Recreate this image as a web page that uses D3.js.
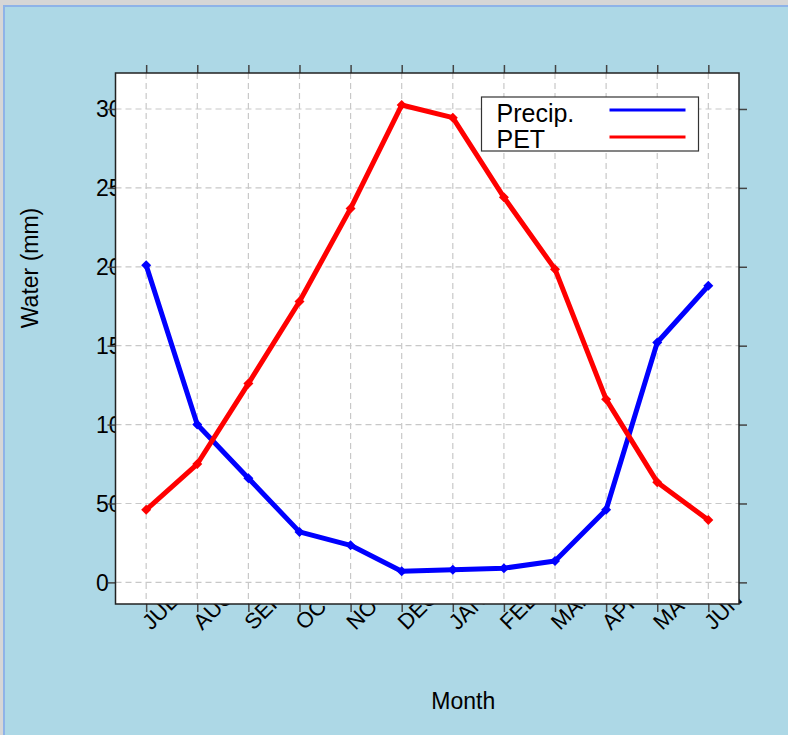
<!DOCTYPE html>
<html>
<head>
<meta charset="utf-8">
<script src="https://cdn.jsdelivr.net/npm/d3@7"></script>
<style>
body { margin: 0; background: #d4d4d4; }
text { font-family: "Liberation Sans", Arial, sans-serif; }
</style>
</head>
<body>
<div id="chart"></div>
<script>

// Data
var months = ["JUL","AUG","SEP","OCT","NOV","DEC","JAN","FEB","MAR","APR","MAY","JUN"];
var precip = [201, 100, 66, 32, 23.5, 7, 8, 9, 13.5, 46, 152, 188];
var pet = [46, 75, 126, 178, 237, 302.5, 294.5, 244, 198.5, 116, 63.5, 39.5];
var yTicks = [0, 50, 100, 150, 200, 250, 300];
var legendItems = ["Precip.", "PET"];
var seriesColors = ["#0000ff", "#ff0000"];

// Drawing parameters
var width = 788, height = 735;
var plotLeft = 115.5, plotTop = 73, plotRight = 739, plotBottom = 604;
var tickLength = 8;
var gridColor = "#c8c8c8";
var tickColor = "#444";

var svg = d3.select("#chart").append("svg:svg")
	.attr("width", width).attr("height", height);

// window frame
svg.append("rect")
	.attr("x", 0).attr("y", 0).attr("width", width).attr("height", height)
	.attr("fill", "#d6d6d6");
svg.append("rect")
	.attr("x", 4).attr("y", 6).attr("width", width).attr("height", height)
	.attr("fill", "#add8e6")
	.attr("stroke", "#8eb3e8").attr("stroke-width", 2);

// Scales
var x = d3.scaleLinear().domain([0.4, 12.6]).range([plotLeft, plotRight]);
var y = d3.scaleLinear().domain([-13.7, 322.8]).range([plotBottom, plotTop]);
var monthIndex = months.map(function(m, i) { return i + 1; });

// Tick labels first, the plot panel covers part of them
svg.append("g").selectAll("text")
	.data(yTicks).enter().append("text")
	.attr("x", 96).attr("y", function(d) { return y(d); })
	.attr("dy", "0.36em")
	.attr("font-size", 23)
	.text(function(d) { return d; });

svg.append("g").selectAll("text")
	.data(months).enter().append("text")
	.attr("transform", function(d, i) { return "translate(" + (x(i + 1) + 5) + ",631) rotate(-45)"; })
	.attr("font-size", 22)
	.text(function(d) { return d; });

// Plot panel
svg.append("rect")
	.attr("x", plotLeft).attr("y", plotTop)
	.attr("width", plotRight - plotLeft).attr("height", plotBottom - plotTop)
	.attr("fill", "white");

// Grid
var grid = svg.append("g")
	.attr("stroke", gridColor).attr("stroke-width", 1.2).attr("stroke-dasharray", "6,4");
grid.selectAll(".gx").data(monthIndex).enter().append("line")
	.attr("x1", function(d) { return x(d); }).attr("x2", function(d) { return x(d); })
	.attr("y1", plotTop).attr("y2", plotBottom);
grid.selectAll(".gy").data(yTicks).enter().append("line")
	.attr("x1", plotLeft).attr("x2", plotRight)
	.attr("y1", function(d) { return y(d); }).attr("y2", function(d) { return y(d); });

// Axes (ticks outside the panel)
var axisTop = d3.axisTop(x).tickValues(monthIndex).tickFormat("").tickSize(tickLength).tickSizeOuter(0);
var axisBottom = d3.axisBottom(x).tickValues(monthIndex).tickFormat("").tickSize(tickLength).tickSizeOuter(0);
var axisLeft = d3.axisLeft(y).tickValues(yTicks).tickFormat("").tickSize(tickLength).tickSizeOuter(0);
var axisRight = d3.axisRight(y).tickValues(yTicks).tickFormat("").tickSize(tickLength).tickSizeOuter(0);

[[axisTop, "translate(0," + plotTop + ")"],
 [axisBottom, "translate(0," + plotBottom + ")"],
 [axisLeft, "translate(" + plotLeft + ",0)"],
 [axisRight, "translate(" + plotRight + ",0)"]].forEach(function(a) {
	var g = svg.append("g").attr("transform", a[1]).call(a[0]);
	g.select(".domain").remove();
	g.selectAll("line").attr("stroke", tickColor).attr("stroke-width", 1.5);
});

// Series
var line = d3.line()
	.x(function(d, i) { return x(i + 1); })
	.y(function(d) { return y(d); });

var marker = d3.symbol().type(d3.symbolSquare).size(50);

[precip, pet].forEach(function(series, s) {
	svg.append("path")
		.datum(series)
		.attr("d", line)
		.attr("fill", "none")
		.attr("stroke", seriesColors[s])
		.attr("stroke-width", 5)
		.attr("stroke-linejoin", "round");

	svg.append("g").selectAll("path")
		.data(series).enter().append("path")
		.attr("transform", function(d, i) { return "translate(" + x(i + 1) + "," + y(d) + ") rotate(45)"; })
		.attr("d", marker)
		.attr("fill", seriesColors[s]);
});

// Panel border
svg.append("rect")
	.attr("x", plotLeft).attr("y", plotTop)
	.attr("width", plotRight - plotLeft).attr("height", plotBottom - plotTop)
	.attr("fill", "none")
	.attr("stroke", "#222").attr("stroke-width", 1.5);

// Legend
var legend = svg.append("g").attr("transform", "translate(481.5,97)");
legend.append("rect")
	.attr("width", 217).attr("height", 54)
	.attr("fill", "white")
	.attr("stroke", "#333").attr("stroke-width", 1.2);

legendItems.forEach(function(name, i) {
	legend.append("text")
		.attr("x", 15).attr("y", 25 + i * 26)
		.attr("font-size", 25)
		.text(name);
	legend.append("line")
		.attr("x1", 128).attr("x2", 204)
		.attr("y1", 13 + i * 27).attr("y2", 13 + i * 27)
		.attr("stroke", seriesColors[i]).attr("stroke-width", 3);
});

// Axis titles
svg.append("text")
	.attr("x", (plotLeft + plotRight) / 2 + 36).attr("y", 709)
	.attr("text-anchor", "middle")
	.attr("font-size", 23)
	.text("Month");

svg.append("text")
	.attr("transform", "translate(38,268) rotate(-90)")
	.attr("text-anchor", "middle")
	.attr("font-size", 23)
	.text("Water (mm)");

</script>
</body>
</html>
